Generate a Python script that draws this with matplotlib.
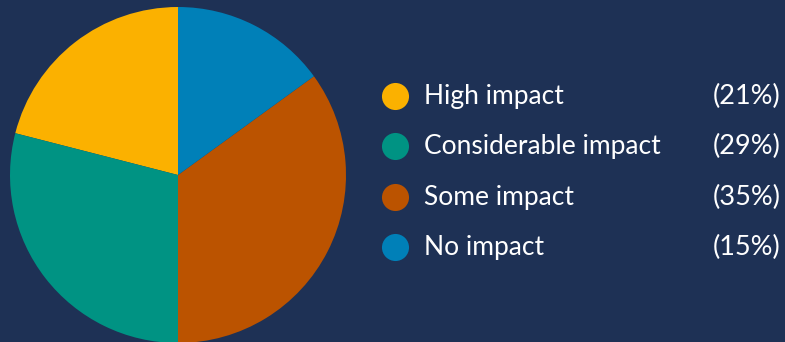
import matplotlib.pyplot as plt

labels = ["High impact", "Considerable impact", "Some impact", "No impact"]
values = [21, 29, 35, 15]
colors = ["#fbb100", "#009383", "#bb5300", "#0080b8"]
bg = "#1e3155"

W, H = 785, 342
fig = plt.figure(figsize=(W / 100, H / 100), dpi=100, facecolor=bg)

# pie axes, placed in pixel units
ax = fig.add_axes([10 / W, -1 / H, 336 / W, 336 / H])
ax.set_facecolor(bg)
ax.pie(values, colors=colors, startangle=90, counterclock=True,
       radius=1, wedgeprops={"linewidth": 0})
ax.set_xlim(-1, 1)
ax.set_ylim(-1, 1)
ax.set_aspect("equal")
ax.axis("off")

# legend drawn in pixel coordinates
lax = fig.add_axes([0, 0, 1, 1])
lax.set_xlim(0, W)
lax.set_ylim(H, 0)
lax.axis("off")
lax.patch.set_alpha(0)

row_y = [96, 146, 197, 247]
for y, lab, v, c in zip(row_y, labels, values, colors):
    lax.scatter([395], [y], s=380, color=c, linewidths=0)
    lax.text(424, y + 8, lab, color="white", fontsize=19,
             family="Lato", va="baseline", ha="left")
    lax.text(781, y + 8, f"({v}%)", color="white", fontsize=19.5,
             family="Lato", va="baseline", ha="right")

fig.savefig("out.png", dpi=100, facecolor=bg)
